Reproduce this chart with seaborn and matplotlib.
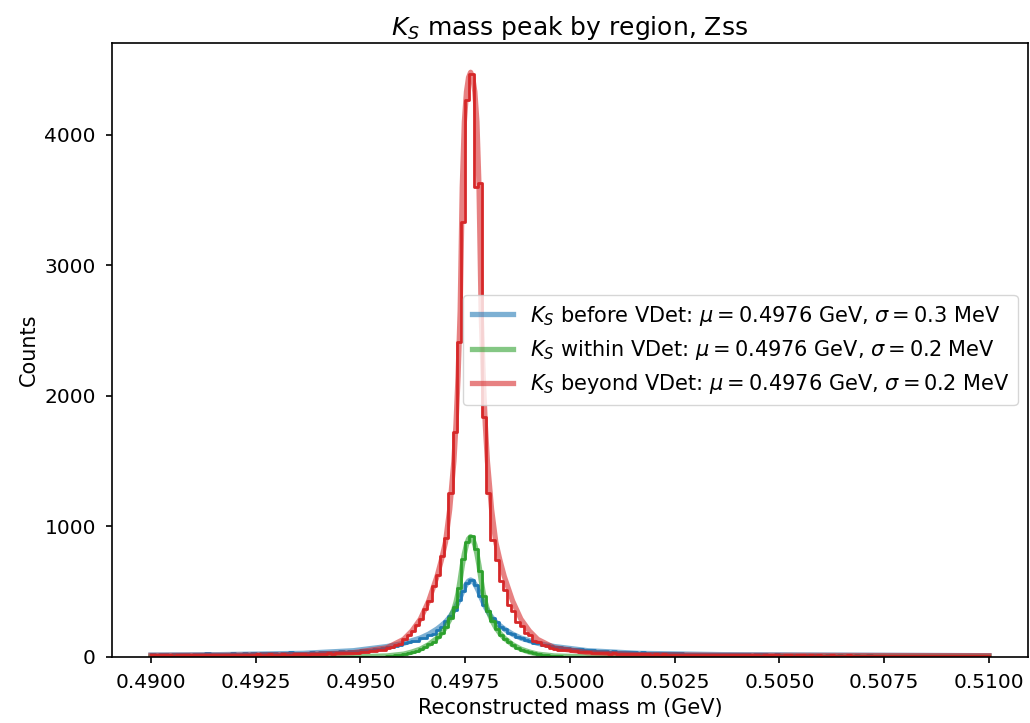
import numpy as np
import pandas as pd
import matplotlib
matplotlib.use("Agg")
import matplotlib.pyplot as plt
from matplotlib.ticker import FormatStrFormatter
import seaborn as sns

# Histogram binning (GeV)
mass_lo, mass_hi, n_bins = 0.490, 0.510, 200

# Bin contents per decay region
counts_before = [
    22, 19, 25, 21, 18, 24, 20, 23, 26, 19, 22, 25, 21, 27, 23, 20, 26, 24, 22, 28,
    25, 23, 29, 26, 31, 24, 28, 33, 27, 30, 26, 32, 29, 35, 31, 28, 34, 32, 36, 33,
    37, 40, 36, 42, 39, 44, 41, 46, 43, 48,
    50, 55, 53, 60, 64, 70, 74, 80, 86, 95,
    110, 112, 124, 126, 142, 148, 168, 178, 205, 228,
    275, 315, 360, 440, 505, 565, 592, 555, 470, 400,
    350, 295, 270, 232, 215, 185, 175, 152, 146, 128,
    125, 110, 106, 94, 92, 82, 80, 74, 72, 66,
    65, 60, 58, 53, 54, 50,
    47, 45, 46, 42, 43, 40, 38, 39, 36, 37, 34, 35, 32, 33, 30, 31, 29, 30, 27, 28,
    27, 25, 26, 24, 26, 23, 25, 22, 24, 23, 21, 24, 22, 20, 23, 21, 22, 19, 21, 20,
    22, 19, 18, 20, 19, 17, 19, 18, 16, 18, 17,
    13, 12, 14, 11, 13, 12, 10, 13, 11, 12, 10, 12, 11, 9, 12, 10, 11, 9, 10, 11,
    9, 10, 8, 10, 9, 11, 8, 9, 10, 8, 9, 7, 9, 8, 9, 7, 8, 9, 7, 8, 6, 8, 7,
]
counts_within = (
    [0] * 54
    + [1, 3, 6, 9, 13, 17, 22, 30, 38, 47, 60, 76, 98, 118, 150, 185,
       230, 300, 385, 530, 750, 880, 925, 830, 660, 470,
       350, 275, 215, 170, 140, 112, 90, 72, 57, 46,
       36, 28, 21, 16, 12, 9, 6, 4, 3, 2, 1, 1]
    + [0] * 98
)
counts_beyond = [
    14, 18, 12, 16, 15, 11, 17, 13, 19, 14, 12, 16, 18, 13, 15, 17, 14, 19, 16, 15,
    17, 14, 19, 16, 18, 21, 15, 17, 20, 18, 16, 22, 19, 17, 21, 20, 23, 18, 22, 24,
    25, 23, 27, 26, 29, 28, 31, 30, 34, 33,
    40, 38, 47, 45, 57, 55, 72, 74, 95, 100,
    135, 170, 200, 245, 290, 365, 430, 545, 630, 770,
    912, 1254, 1727, 2416, 3336, 4265, 4470, 3600, 3630, 1835,
    1254, 900, 740, 580, 510, 400, 350, 270, 240, 185,
    165, 125, 115, 90, 84, 66, 60, 57, 50, 52,
    44, 45, 40, 37, 38, 33,
    31, 28, 30, 26, 27, 24, 25, 22, 24, 21, 23, 20, 22, 19, 21, 18, 20, 17, 19, 18,
    17, 15, 18, 14, 16, 15, 13, 17, 14, 16, 12, 15, 14, 13, 16, 12, 14, 13, 15, 11,
    13, 14, 12, 13, 11, 14, 12, 10, 13, 12, 11, 13, 10, 12, 11, 9, 12, 10, 11, 9,
    12, 10, 8, 11, 10, 9, 11, 8, 10, 9, 10, 8, 9, 11, 8, 9, 10, 7, 9, 8,
    10, 7, 9, 8, 7, 9, 8, 7, 8, 9, 7, 8, 6, 8,
]

# Fitted line shapes, sampled in mass (GeV)
fit_mass = [
    0.49000, 0.49163, 0.49363, 0.49483, 0.49563, 0.49603, 0.49623, 0.49643,
    0.49663, 0.49683, 0.49693, 0.49703, 0.49713, 0.49723, 0.49728, 0.49733,
    0.49738, 0.49743, 0.49748, 0.49753, 0.49758, 0.49763, 0.49768, 0.49773,
    0.49778, 0.49783, 0.49788, 0.49793, 0.49798, 0.49803, 0.49813, 0.49823,
    0.49833, 0.49843, 0.49863, 0.49883, 0.49903, 0.49923, 0.49963, 0.50043,
    0.50163, 0.50363, 0.51000,
]
fit_before = [15, 18, 28, 48, 80, 105, 125, 145, 175, 215, 240, 268, 305, 355, 385,
              418, 455, 495, 530, 560, 582, 590, 582, 560, 530, 495, 455, 418, 385,
              355, 305, 268, 240, 215, 175, 145, 125, 105, 80, 48, 28, 18, 10]
fit_within = [0, 0, 0, 1, 8, 22, 38, 60, 95, 145, 180, 225, 285, 365, 420, 490, 590,
              700, 790, 860, 905, 922, 905, 860, 790, 700, 590, 490, 420, 365, 285,
              225, 180, 145, 95, 60, 38, 22, 8, 1, 0, 0, 0]
fit_beyond = [12, 13, 18, 33, 70, 135, 200, 290, 430, 620, 740, 880, 1130, 1500, 1780,
              2150, 2650, 3600, 4100, 4330, 4440, 4480, 4440, 4330, 4100, 3600, 2650,
              2150, 1780, 1500, 1130, 880, 740, 620, 430, 290, 200, 135, 70, 33, 18,
              13, 10]

region_names = ["before", "within", "beyond"]
fit_mu = [0.4976, 0.4976, 0.4976]      # GeV
fit_sigma = [0.3, 0.2, 0.2]            # MeV
colors = ["#1f77b4", "#2ca02c", "#d62728"]

x_ticks = [0.4900, 0.4925, 0.4950, 0.4975, 0.5000, 0.5025, 0.5050, 0.5075, 0.5100]
y_ticks = [0, 1000, 2000, 3000, 4000]

edges = np.linspace(mass_lo, mass_hi, n_bins + 1)
centers = 0.5 * (edges[:-1] + edges[1:])

fig = plt.figure(figsize=(10.30, 7.23), dpi=100)
ax = fig.add_axes([0.1087, 0.0913, 0.8893, 0.8492])

hist_sets = [counts_before, counts_within, counts_beyond]
fit_sets = [fit_before, fit_within, fit_beyond]
for name, counts, fit, mu, sig, col in zip(region_names, hist_sets, fit_sets,
                                            fit_mu, fit_sigma, colors):
    hist_df = pd.DataFrame({"mass": centers, "counts": np.asarray(counts, float)})
    sns.histplot(data=hist_df, x="mass", weights="counts", bins=edges.tolist(),
                 element="step", fill=False, color=col, linewidth=2.0, ax=ax)
    fit_df = pd.DataFrame({"mass": fit_mass, "counts": fit})
    label = (rf"$K_S$ {name} VDet: $\mu = {mu:.4f}$ GeV, "
             rf"$\sigma = {sig:.1f}$ MeV")
    sns.lineplot(data=fit_df, x="mass", y="counts", color=col, alpha=0.58,
                 linewidth=3.8, label=label, ax=ax)

ax.set_xlim(0.48907, 0.51093)
ax.set_ylim(bottom=0)
ax.set_xticks(x_ticks)
ax.set_yticks(y_ticks)
ax.xaxis.set_major_formatter(FormatStrFormatter("%.4f"))
ax.tick_params(labelsize=14.5, length=4.5, width=1.2, pad=7)
for sp in ax.spines.values():
    sp.set_linewidth(1.2)

ax.set_xlabel("Reconstructed mass m (GeV)", fontsize=15)
ax.set_ylabel("Counts", fontsize=15)
ax.set_title(r"$K_S$ mass peak by region, Zss", fontsize=18)
ax.legend(loc="center right", fontsize=15)

fig.savefig("out.png", dpi=100)
